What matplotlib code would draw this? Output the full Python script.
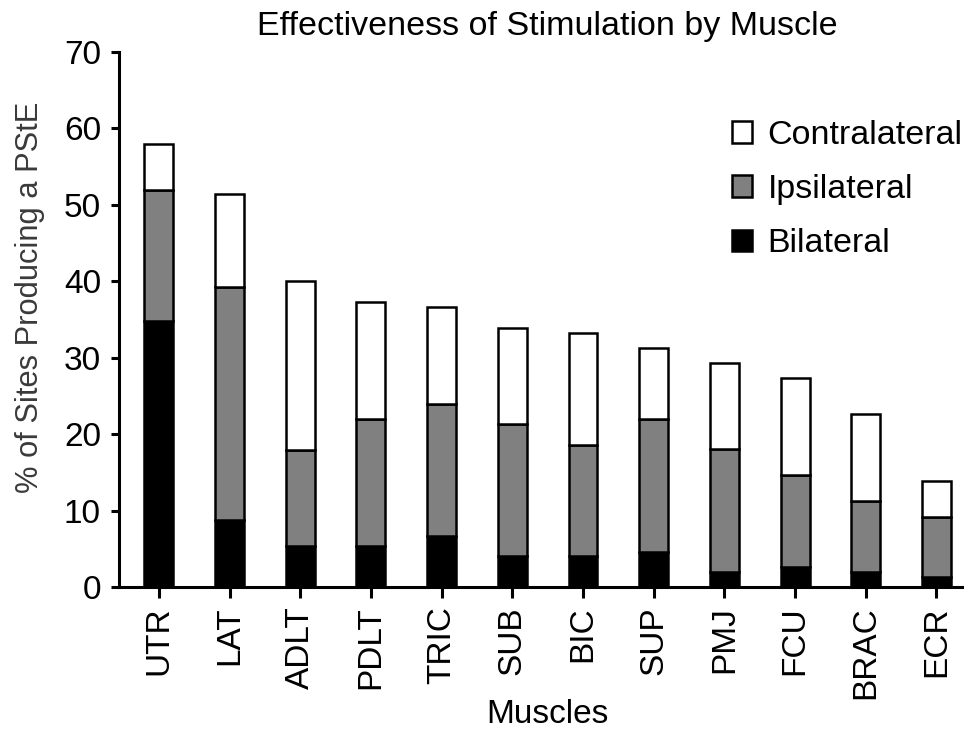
import numpy as np
import matplotlib
matplotlib.use("Agg")
import matplotlib.pyplot as plt
from matplotlib.patches import Patch

plt.rcParams['font.family'] = ['Liberation Sans', 'DejaVu Sans']

muscles = ['UTR', 'LAT', 'ADLT', 'PDLT', 'TRIC', 'SUB', 'BIC', 'SUP', 'PMJ', 'FCU', 'BRAC', 'ECR']
bilateral = [34.8, 8.8, 5.4, 5.4, 6.7, 4.0, 4.0, 4.6, 2.0, 2.65, 2.0, 1.35]
ipsilateral_top = [52.0, 39.3, 17.9, 22.0, 24.0, 21.3, 18.6, 22.0, 18.0, 14.6, 11.2, 9.2]
total = [58.0, 51.4, 40.0, 37.3, 36.7, 33.9, 33.3, 31.3, 29.3, 27.3, 22.6, 13.9]

bil = np.array(bilateral)
ipsi = np.array(ipsilateral_top) - bil
contra = np.array(total) - np.array(ipsilateral_top)

fig = plt.figure(figsize=(9.64, 7.32), dpi=100)
ax = fig.add_axes([0.1234, 0.198, 0.889, 0.731])

x = np.arange(len(muscles))
w = 0.41
lw = 1.8
ax.bar(x, bil, w, color='black', edgecolor='black', linewidth=lw, label='Bilateral')
ax.bar(x, ipsi, w, bottom=bil, color='#808080', edgecolor='black', linewidth=lw, label='Ipsilateral')
ax.bar(x, contra, w, bottom=bil + ipsi, color='white', edgecolor='black', linewidth=lw, label='Contralateral')

ax.set_xlim(-0.566, 11.56)
ax.set_ylim(0, 70)
ax.set_yticks(range(0, 71, 10))
ax.set_xticks(x)
ax.set_xticklabels(muscles, rotation=90)

for s in ['top', 'right']:
    ax.spines[s].set_visible(False)
for s in ['left', 'bottom']:
    ax.spines[s].set_linewidth(2.2)
ax.tick_params(axis='y', length=6, width=2.2, labelsize=24, direction='out', pad=7)
ax.tick_params(axis='x', length=8, width=2.2, labelsize=24, direction='out', pad=6)

ax.set_ylabel('% of Sites Producing a PStE', fontsize=22.2, color='#3a3a3a')
ax.yaxis.set_label_coords(-0.086, 0.542)
ax.set_xlabel('Muscles', fontsize=24, labelpad=0)
ax.set_title('Effectiveness of Stimulation by Muscle', fontsize=24.5, pad=12)

handles = [Patch(facecolor='white', edgecolor='black', linewidth=1.8, label='Contralateral'),
           Patch(facecolor='#808080', edgecolor='black', linewidth=1.8, label='Ipsilateral'),
           Patch(facecolor='black', edgecolor='black', linewidth=1.8, label='Bilateral')]
ax.legend(handles=handles, loc='upper left', bbox_to_anchor=(0.759, 0.836),
          bbox_transform=fig.transFigure, frameon=False, borderpad=0, borderaxespad=0,
          fontsize=24.5, handlelength=0.6, handleheight=0.6, handletextpad=0.45, labelspacing=0.68)

fig.savefig('out.png', dpi=100)
